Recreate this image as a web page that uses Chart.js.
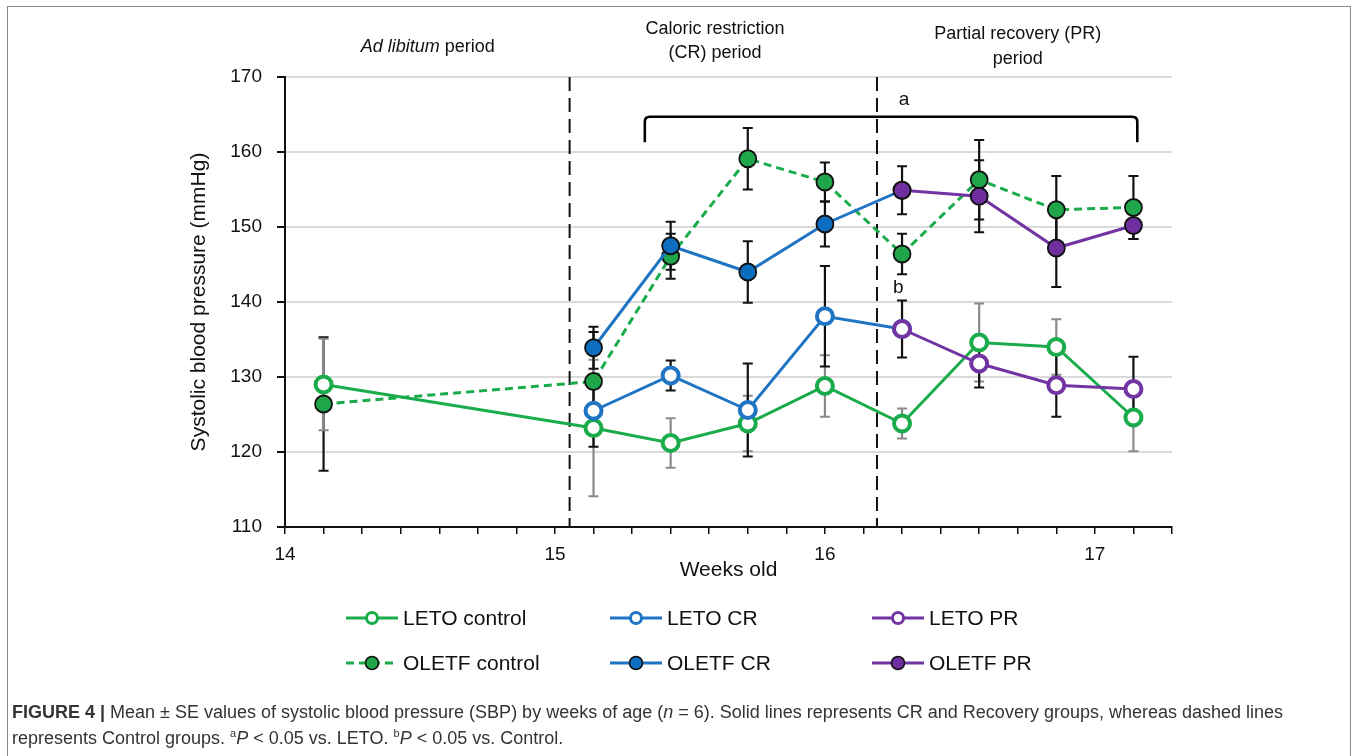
<!DOCTYPE html>
<html>
<head>
<meta charset="utf-8">
<script src="https://cdn.jsdelivr.net/npm/chart.js@4.4.1/dist/chart.umd.min.js"></script>
<style>
  html, body { margin: 0; padding: 0; background: #fff; overflow: hidden; }
  body { width: 1357px; height: 756px; position: relative; font-family: "Liberation Sans", Arial, sans-serif; }
  #frame { position: absolute; left: 7px; top: 6px; width: 1344px; height: 800px; border: 1px solid #8a8a8a; box-sizing: border-box; }
  #wrap { position: absolute; left: 0; top: 0; width: 1357px; height: 700px; }
  #caption { position: absolute; left: 12px; top: 699px; width: 1335px; font-size: 18px; line-height: 26px; color: #333; white-space: nowrap; }
  #caption sup { font-size: 11px; line-height: 0; vertical-align: 7px; }
</style>
</head>
<body>
<div id="frame"></div>
<div id="wrap"><canvas id="sbp"></canvas></div>
<div id="caption"><b>FIGURE 4 |</b> Mean ± SE values of systolic blood pressure (SBP) by weeks of age (<i>n</i> = 6). Solid lines represents CR and Recovery groups, whereas dashed lines<br>represents Control groups. <sup>a</sup><i>P</i> &lt; 0.05 vs. LETO. <sup>b</sup><i>P</i> &lt; 0.05 vs. Control.</div>
<script>
// ages in days (x axis is labelled in weeks: 98 d = 14 wk)
const DAYS_ALL = [99, 106, 108, 110, 112, 114, 116, 118, 120];
const DAYS_CR  = [106, 108, 110, 112, 114];
const DAYS_PR  = [114, 116, 118, 120];

const LETO_CONTROL    = [129.0, 123.2, 121.2, 123.8, 128.8, 123.8, 134.6, 134.0, 124.6];
const LETO_CONTROL_SE = [6.1, 9.1, 3.3, 3.7, 4.1, 2.0, 5.2, 3.7, 4.5];
const OLETF_CONTROL    = [126.4, 129.4, 146.1, 159.1, 156.0, 146.4, 156.3, 152.3, 152.6];
const OLETF_CONTROL_SE = [8.9, 6.6, 3.0, 4.1, 2.6, 2.7, 5.3, 4.5, 4.2];

const LETO_CR     = [125.5, 130.2, 125.6, 138.1, 136.4];
const LETO_CR_SE  = [4.8, 2.0, 6.2, 6.7, null];
const OLETF_CR    = [133.9, 147.5, 144.0, 150.4, 154.9];
const OLETF_CR_SE = [2.8, 3.2, 4.1, 3.0, null];

const LETO_PR     = [136.4, 131.8, 128.9, 128.4];
const LETO_PR_SE  = [3.8, 3.2, 4.2, 4.3];
const OLETF_PR    = [154.9, 154.1, 147.2, 150.2];
const OLETF_PR_SE = [3.2, 4.8, 5.2, 1.8];

const Y_TICKS = [110, 120, 130, 140, 150, 160, 170];
const PERIOD_LINES = [105.38, 113.35];           // vertical dashed separators (days)
const BRACKET = { x0: 107.33, x1: 120.1, top: 164.7, foot: 161.3 };
const MARKS = [ { text: 'a', x: 114.05, y: 167.0 }, { text: 'b', x: 113.9, y: 141.9 } ];
const PERIODS = [
  { x: 101.7,  lines: [['Ad libitum', ' period']], dy: [-30] },
  { x: 109.15, lines: ['Caloric restriction', '(CR) period'], dy: [-48, -24] },
  { x: 117.0,  lines: ['Partial recovery (PR)', 'period'], dy: [-43, -18] },
];

const GREEN = '#1aab4b', GREEN_F = '#1fa64a';
const BLUE  = '#1f74c3', BLUE_F  = '#0d6ebf';
const PURPLE = '#7233a3', PURPLE_F = '#6f2f9f';
const FONT = '"Liberation Sans", Arial, sans-serif';

const pts = (xs, ys) => xs.map((x, i) => ({ x, y: ys[i] }));

function openSet(label, xs, ys, se, col, errCol) {
  return { label, data: pts(xs, ys), se, errColor: errCol, borderColor: col, borderWidth: 3,
    pointRadius: 8, pointHoverRadius: 8, pointBackgroundColor: '#fff', pointBorderColor: col,
    pointBorderWidth: 4, fill: false, tension: 0, filled: false };
}
function fillSet(label, xs, ys, se, col, fillCol, dash) {
  return { label, data: pts(xs, ys), se, errColor: '#111', borderColor: col, borderWidth: 3,
    borderDash: dash || [], pointRadius: 8.5, pointHoverRadius: 8.5, pointBackgroundColor: fillCol,
    pointBorderColor: '#111', pointBorderWidth: 1.8, fill: false, tension: 0, filled: true };
}

// index 0 is drawn on top
const datasets = [
  openSet('LETO PR', DAYS_PR, LETO_PR, LETO_PR_SE, PURPLE, '#111'),
  fillSet('OLETF PR', DAYS_PR, OLETF_PR, OLETF_PR_SE, PURPLE, PURPLE_F),
  openSet('LETO CR', DAYS_CR, LETO_CR, LETO_CR_SE, BLUE, '#111'),
  fillSet('OLETF CR', DAYS_CR, OLETF_CR, OLETF_CR_SE, BLUE, BLUE_F),
  openSet('LETO control', DAYS_ALL, LETO_CONTROL, LETO_CONTROL_SE, GREEN, '#8a8a8a'),
  fillSet('OLETF control', DAYS_ALL, OLETF_CONTROL, OLETF_CONTROL_SE, GREEN, GREEN_F, [8, 5]),
];

// legend grid: column of each label
const LEGEND_ORDER = [['LETO control', 'LETO CR', 'LETO PR'], ['OLETF control', 'OLETF CR', 'OLETF PR']];

const decor = {
  id: 'decor',
  beforeDatasetsDraw(chart) {
    const { ctx, chartArea: a, scales: { x, y } } = chart;
    ctx.save();
    // period separators
    ctx.strokeStyle = '#111'; ctx.lineWidth = 2; ctx.setLineDash([14, 7]);
    PERIOD_LINES.forEach(d => {
      const px = x.getPixelForValue(d);
      ctx.beginPath(); ctx.moveTo(px, a.top); ctx.lineTo(px, a.bottom); ctx.stroke();
    });
    ctx.setLineDash([]);
    // error bars behind the lines
    chart.data.datasets.slice().reverse().forEach(ds => {
      ctx.strokeStyle = ds.errColor; ctx.lineWidth = 2.2;
      ds.data.forEach((p, i) => {
        const e = ds.se[i]; if (e == null) return;
        const px = x.getPixelForValue(p.x), hi = y.getPixelForValue(p.y + e), lo = y.getPixelForValue(p.y - e);
        ctx.beginPath();
        ctx.moveTo(px, hi); ctx.lineTo(px, lo);
        ctx.moveTo(px - 5, hi); ctx.lineTo(px + 5, hi);
        ctx.moveTo(px - 5, lo); ctx.lineTo(px + 5, lo);
        ctx.stroke();
      });
    });
    ctx.restore();
  },
  afterDraw(chart) {
    const { ctx, chartArea: a, scales: { x, y } } = chart;
    ctx.save();
    // significance bracket
    const bx0 = x.getPixelForValue(BRACKET.x0), bx1 = x.getPixelForValue(BRACKET.x1);
    const bt = y.getPixelForValue(BRACKET.top), bf = y.getPixelForValue(BRACKET.foot);
    ctx.strokeStyle = '#000'; ctx.lineWidth = 2.6;
    ctx.beginPath();
    ctx.moveTo(bx0, bf); ctx.lineTo(bx0, bt + 5); ctx.quadraticCurveTo(bx0, bt, bx0 + 5, bt);
    ctx.lineTo(bx1 - 5, bt); ctx.quadraticCurveTo(bx1, bt, bx1, bt + 5); ctx.lineTo(bx1, bf);
    ctx.stroke();
    ctx.fillStyle = '#111'; ctx.textAlign = 'center'; ctx.textBaseline = 'middle';
    ctx.font = '19px ' + FONT;
    MARKS.forEach(m => ctx.fillText(m.text, x.getPixelForValue(m.x), y.getPixelForValue(m.y)));
    // period headings
    const PF = '18px ' + FONT, PFI = 'italic 18px ' + FONT;
    PERIODS.forEach(p => {
      const cx = x.getPixelForValue(p.x);
      p.lines.forEach((ln, i) => {
        const ty = a.top + p.dy[i];
        if (Array.isArray(ln)) {
          ctx.font = PFI; const w0 = ctx.measureText(ln[0]).width;
          ctx.font = PF; const w1 = ctx.measureText(ln[1]).width;
          const sx = cx - (w0 + w1) / 2;
          ctx.textAlign = 'left';
          ctx.font = PFI; ctx.fillText(ln[0], sx, ty);
          ctx.font = PF; ctx.fillText(ln[1], sx + w0, ty);
          ctx.textAlign = 'center';
        } else {
          ctx.font = PF; ctx.fillText(ln, cx, ty);
        }
      });
    });
    // legend
    const colX = [346, 610, 872], rowY = [618, 663];
    ctx.font = '21px ' + FONT; ctx.textAlign = 'left';
    LEGEND_ORDER.forEach((row, r) => row.forEach((name, c) => {
      const ds = chart.data.datasets.find(d => d.label === name);
      const lx = colX[c], ly = rowY[r];
      ctx.strokeStyle = ds.borderColor; ctx.lineWidth = 3; ctx.setLineDash(ds.borderDash || []);
      ctx.beginPath(); ctx.moveTo(lx, ly); ctx.lineTo(lx + 52, ly); ctx.stroke();
      ctx.setLineDash([]);
      ctx.beginPath(); ctx.arc(lx + 26, ly, ds.filled ? 6.5 : 5.5, 0, Math.PI * 2);
      ctx.fillStyle = ds.pointBackgroundColor; ctx.fill();
      ctx.strokeStyle = ds.pointBorderColor; ctx.lineWidth = ds.filled ? 1.6 : 3; ctx.stroke();
      ctx.fillStyle = '#111'; ctx.textBaseline = 'middle';
      ctx.fillText(name, lx + 57, ly + 1);
    }));
    ctx.restore();
  }
};

new Chart(document.getElementById('sbp'), {
  type: 'line',
  data: { datasets },
  plugins: [decor],
  options: {
    responsive: true, maintainAspectRatio: false, animation: false,
    layout: { padding: { left: 180, right: 185, top: 77, bottom: 113 } },
    plugins: { legend: { display: false }, tooltip: { enabled: false } },
    scales: {
      x: {
        type: 'linear', min: 98, max: 121,
        afterFit: s => { s.height = 60; },
        afterBuildTicks: s => { s.ticks = []; for (let d = 98; d <= 121; d++) s.ticks.push({ value: d }); },
        ticks: { autoSkip: false, maxRotation: 0, padding: 9, color: '#111', font: { family: FONT, size: 19 },
          callback: v => (v % 7 === 0 ? String(v / 7) : '') },
        grid: { drawOnChartArea: false, drawTicks: true, tickLength: 7, tickColor: '#111', lineWidth: 1.5 },
        border: { display: true, color: '#111', width: 2 },
        title: { display: true, text: 'Weeks old', color: '#111', font: { family: FONT, size: 21 }, padding: { top: 0, bottom: 4 } },
      },
      y: {
        min: 110, max: 170,
        afterFit: s => { s.width = 105; },
        afterBuildTicks: s => { s.ticks = Y_TICKS.map(v => ({ value: v })); },
        ticks: { padding: 15, color: '#111', font: { family: FONT, size: 19 } },
        grid: { color: '#dadada', lineWidth: 2, tickColor: '#111', tickLength: 8 },
        border: { display: true, color: '#111', width: 2 },
        title: { display: true, text: 'Systolic blood pressure (mmHg)', color: '#111', font: { family: FONT, size: 21 }, padding: { top: 7, bottom: 0 } },
      },
    },
  },
});
</script>
</body>
</html>
